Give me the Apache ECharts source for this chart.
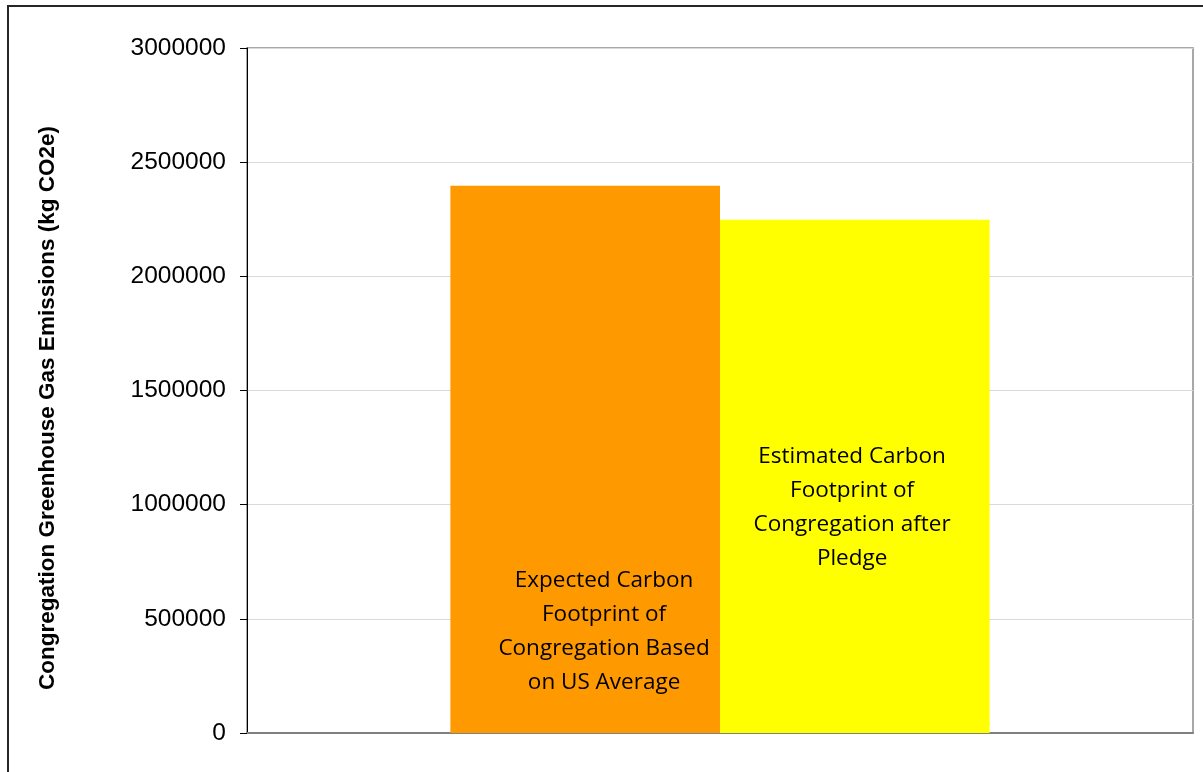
<!DOCTYPE html>
<html>
<head>
<meta charset="utf-8">
<script src="https://cdn.jsdelivr.net/npm/echarts@6/dist/echarts.min.js"></script>
<style>
  html, body { margin: 0; padding: 0; background: #fff; }
  #chart { width: 1203px; height: 772px; }
</style>
</head>
<body>
<div id="chart"></div>
<script>
// Congregation emissions: expected (US average) vs. estimate after the pledge
const categories = [''];
const expectedName = 'Expected Carbon Footprint of Congregation Based on US Average';
const pledgeName = 'Estimated Carbon Footprint of Congregation after Pledge';
const expectedLabel = ['Expected Carbon', 'Footprint of', 'Congregation Based', 'on US Average'];
const pledgeLabel = ['Estimated Carbon', 'Footprint of', 'Congregation after', 'Pledge'];
const expectedValues = [2397000];
const pledgeValues = [2248000];
const yAxisTitle = 'Congregation Greenhouse Gas Emissions (kg CO2e)';
const yMin = 0, yMax = 3000000, yStep = 500000;

const chart = echarts.init(document.getElementById('chart'), null, { renderer: 'canvas' });

const labelStyle = {
  show: true,
  align: 'center',
  verticalAlign: 'middle',
  fontFamily: 'Open Sans',
  fontSize: 22.5,
  lineHeight: 34,
  color: '#000'
};

chart.setOption({
  animation: false,
  backgroundColor: '#fff',
  grid: {
    left: 247, top: 48, right: 10, bottom: 39,
    show: true, borderColor: '#8c8c8c', borderWidth: 1.5, backgroundColor: 'transparent'
  },
  xAxis: {
    type: 'category',
    data: categories,
    axisLine: { show: true, lineStyle: { color: '#808080', width: 2 } },
    axisTick: { show: false },
    axisLabel: { show: false },
    splitLine: { show: false }
  },
  yAxis: {
    type: 'value',
    min: yMin, max: yMax, interval: yStep,
    axisLine: { show: true, lineStyle: { color: '#000', width: 1 } },
    axisTick: { show: true, inside: false, length: 7, lineStyle: { color: '#000' } },
    axisLabel: {
      margin: 21, fontFamily: 'Liberation Sans', fontSize: 24.5, color: '#000',
      formatter: (v) => String(v)
    },
    splitLine: { show: true, lineStyle: { color: '#d9d9d9', width: 1 } }
  },
  graphic: [
    {
      type: 'rect', silent: true, z: 100,
      shape: { x: 8, y: 6, width: 1400, height: 900 },
      style: { fill: 'none', stroke: '#262626', lineWidth: 2 }
    },
    {
      type: 'text', silent: true,
      x: 48, y: 408, rotation: Math.PI / 2,
      style: {
        text: yAxisTitle, fontFamily: 'Liberation Sans', fontWeight: 'bold',
        fontSize: 22.5, fill: '#000', align: 'center', verticalAlign: 'middle'
      }
    }
  ],
  series: [
    {
      name: expectedName,
      type: 'bar',
      data: expectedValues,
      barGap: '0%',
      barCategoryGap: '43%',
      itemStyle: { color: '#ff9900' },
      label: Object.assign({}, labelStyle, {
        position: ['57%', '81.5%'],
        formatter: () => expectedLabel.join('\n')
      })
    },
    {
      name: pledgeName,
      type: 'bar',
      data: pledgeValues,
      barGap: '0%',
      barCategoryGap: '43%',
      itemStyle: { color: '#ffff00' },
      label: Object.assign({}, labelStyle, {
        position: ['49%', '56%'],
        formatter: () => pledgeLabel.join('\n')
      })
    }
  ]
});
</script>
</body>
</html>
